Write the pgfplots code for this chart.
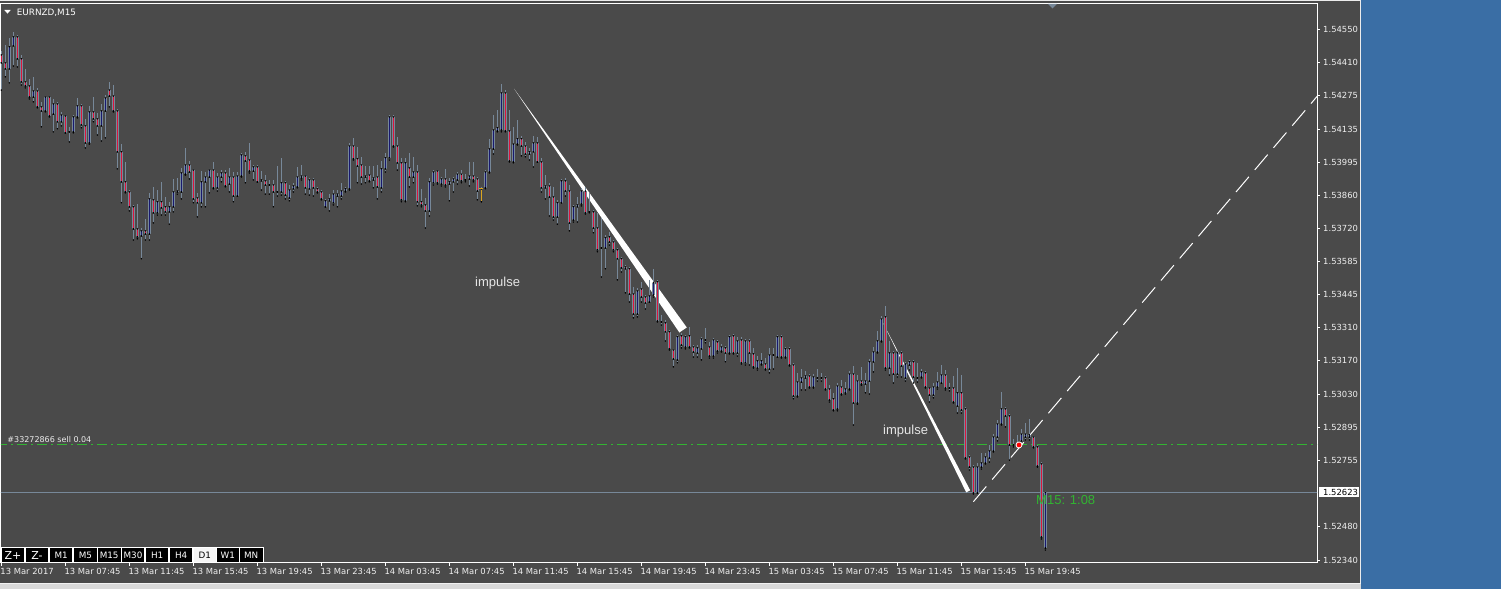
\documentclass[border=0pt]{standalone}
\usepackage{pgfplots}
\pgfplotsset{compat=1.18}
\usepackage{pgfplotstable}
\usepackage{fontspec}
\setmainfont{DejaVu Sans}
\newfontfamily\arialf{Liberation Sans}

\definecolor{chartbg}{HTML}{4A4A4A}
\definecolor{wick}{HTML}{778899}
\definecolor{bullc}{HTML}{191970}
\definecolor{bearc}{HTML}{DC143C}
\definecolor{ordergreen}{HTML}{32B432}
\definecolor{deskblue}{HTML}{3A6EA5}
\definecolor{goldc}{HTML}{DAA520}

% EURNZD M15 candles: bar index, open, high, low, close
\pgfplotstableread{
i o h l c
0 1.54443 1.54460 1.54297 1.54410
1 1.54410 1.54485 1.54352 1.54385
2 1.54385 1.54514 1.54327 1.54477
3 1.54481 1.54539 1.54397 1.54518
4 1.54518 1.54522 1.54393 1.54427
5 1.54427 1.54443 1.54318 1.54331
6 1.54331 1.54385 1.54306 1.54314
7 1.54314 1.54344 1.54260 1.54268
8 1.54268 1.54352 1.54248 1.54293
9 1.54293 1.54306 1.54223 1.54227
10 1.54227 1.54248 1.54144 1.54210
11 1.54210 1.54272 1.54206 1.54268
12 1.54268 1.54272 1.54185 1.54189
13 1.54197 1.54260 1.54123 1.54239
14 1.54239 1.54244 1.54136 1.54165
15 1.54165 1.54206 1.54148 1.54193
16 1.54189 1.54189 1.54119 1.54119
17 1.54123 1.54144 1.54081 1.54123
18 1.54123 1.54185 1.54119 1.54185
19 1.54185 1.54264 1.54181 1.54231
20 1.54231 1.54239 1.54140 1.54152
21 1.54148 1.54177 1.54056 1.54077
22 1.54077 1.54231 1.54072 1.54206
23 1.54206 1.54268 1.54165 1.54177
24 1.54177 1.54202 1.54110 1.54148
25 1.54148 1.54239 1.54085 1.54210
26 1.54210 1.54276 1.54098 1.54264
27 1.54297 1.54331 1.54227 1.54272
28 1.54272 1.54318 1.54206 1.54210
29 1.54210 1.54210 1.53969 1.54040
30 1.54040 1.54072 1.53828 1.53915
31 1.53915 1.53998 1.53869 1.53873
32 1.53873 1.53877 1.53794 1.53811
33 1.53811 1.53815 1.53673 1.53719
34 1.53719 1.53823 1.53678 1.53686
35 1.53690 1.53723 1.53595 1.53711
36 1.53711 1.53761 1.53673 1.53698
37 1.53698 1.53869 1.53673 1.53844
38 1.53840 1.53894 1.53744 1.53786
39 1.53786 1.53881 1.53777 1.53832
40 1.53832 1.53915 1.53777 1.53807
41 1.53811 1.53852 1.53777 1.53790
42 1.53790 1.53832 1.53739 1.53811
43 1.53811 1.53927 1.53790 1.53873
44 1.53873 1.53931 1.53864 1.53877
45 1.53873 1.53973 1.53844 1.53952
46 1.53947 1.54056 1.53943 1.53985
47 1.53985 1.54002 1.53927 1.53956
48 1.53964 1.53964 1.53828 1.53844
49 1.53848 1.53869 1.53769 1.53828
50 1.53828 1.53960 1.53811 1.53915
51 1.53915 1.53956 1.53811 1.53935
52 1.53935 1.53969 1.53869 1.53964
53 1.53964 1.53998 1.53886 1.53890
54 1.53890 1.53952 1.53877 1.53935
55 1.53935 1.53964 1.53915 1.53952
56 1.53952 1.53964 1.53894 1.53898
57 1.53906 1.53973 1.53873 1.53935
58 1.53935 1.53956 1.53832 1.53856
59 1.53856 1.53956 1.53856 1.53939
60 1.53939 1.54036 1.53935 1.54027
61 1.54023 1.54040 1.53911 1.54002
62 1.54006 1.54077 1.53952 1.53960
63 1.53960 1.53985 1.53923 1.53977
64 1.53977 1.53985 1.53915 1.53915
65 1.53923 1.53960 1.53881 1.53919
66 1.53919 1.53943 1.53864 1.53902
67 1.53902 1.53923 1.53864 1.53902
68 1.53902 1.53923 1.53811 1.53873
69 1.53873 1.53981 1.53856 1.53873
70 1.53873 1.54015 1.53860 1.53911
71 1.53911 1.53915 1.53844 1.53860
72 1.53848 1.53902 1.53836 1.53881
73 1.53886 1.53911 1.53873 1.53898
74 1.53894 1.53977 1.53890 1.53935
75 1.53931 1.53985 1.53923 1.53939
76 1.53939 1.53943 1.53864 1.53890
77 1.53886 1.53931 1.53860 1.53923
78 1.53923 1.53927 1.53856 1.53890
79 1.53886 1.53894 1.53869 1.53873
80 1.53873 1.53881 1.53840 1.53844
81 1.53811 1.53844 1.53811 1.53836
82 1.53836 1.53864 1.53794 1.53844
83 1.53828 1.53881 1.53819 1.53864
84 1.53856 1.53881 1.53811 1.53864
85 1.53856 1.53911 1.53844 1.53877
86 1.53877 1.53894 1.53873 1.53886
87 1.53886 1.54077 1.53881 1.54064
88 1.54064 1.54098 1.54006 1.54011
89 1.54011 1.54060 1.53911 1.53981
90 1.53985 1.54019 1.53906 1.53935
91 1.53939 1.53981 1.53911 1.53935
92 1.53943 1.53981 1.53915 1.53919
93 1.53923 1.53981 1.53890 1.53931
94 1.53935 1.53985 1.53844 1.53894
95 1.53890 1.54002 1.53873 1.53969
96 1.53969 1.54036 1.53956 1.54015
97 1.54015 1.54193 1.54006 1.54185
98 1.54185 1.54185 1.54060 1.54064
99 1.54064 1.54102 1.53964 1.53994
100 1.53994 1.54015 1.53832 1.53840
101 1.53836 1.54015 1.53832 1.53994
102 1.53973 1.54036 1.53894 1.53935
103 1.53935 1.54019 1.53911 1.53956
104 1.53956 1.53985 1.53815 1.53832
105 1.53832 1.53886 1.53811 1.53819
106 1.53819 1.53848 1.53723 1.53794
107 1.53794 1.53931 1.53773 1.53915
108 1.53911 1.53964 1.53902 1.53956
109 1.53960 1.53964 1.53906 1.53911
110 1.53906 1.53935 1.53898 1.53927
111 1.53927 1.53969 1.53894 1.53902
112 1.53906 1.53931 1.53836 1.53915
113 1.53915 1.53931 1.53873 1.53927
114 1.53923 1.53956 1.53906 1.53947
115 1.53947 1.53964 1.53911 1.53919
116 1.53923 1.53947 1.53915 1.53923
117 1.53927 1.53998 1.53898 1.53939
118 1.53939 1.53998 1.53915 1.53923
119 1.53927 1.53927 1.53840 1.53877
120 1.53886 1.53890 1.53832 1.53886
121 1.53890 1.53960 1.53886 1.53956
122 1.53956 1.54094 1.53952 1.54052
123 1.54052 1.54193 1.54031 1.54131
124 1.54127 1.54214 1.54123 1.54140
125 1.54131 1.54322 1.54123 1.54285
126 1.54285 1.54297 1.54123 1.54127
127 1.54127 1.54214 1.53998 1.54002
128 1.53998 1.54144 1.53994 1.54072
129 1.54072 1.54173 1.54068 1.54094
130 1.54094 1.54106 1.54023 1.54064
131 1.54064 1.54081 1.54019 1.54031
132 1.54031 1.54056 1.54006 1.54040
133 1.54040 1.54106 1.53977 1.54077
134 1.54077 1.54102 1.53998 1.53998
135 1.53998 1.54015 1.53873 1.53890
136 1.53890 1.53943 1.53844 1.53898
137 1.53898 1.53911 1.53773 1.53852
138 1.53852 1.53894 1.53756 1.53769
139 1.53769 1.53840 1.53739 1.53828
140 1.53828 1.53927 1.53828 1.53919
141 1.53919 1.53931 1.53856 1.53877
142 1.53877 1.53902 1.53711 1.53744
143 1.53756 1.53819 1.53748 1.53811
144 1.53811 1.53852 1.53748 1.53819
145 1.53823 1.53890 1.53815 1.53877
146 1.53877 1.53894 1.53781 1.53786
147 1.53790 1.53869 1.53786 1.53790
148 1.53790 1.53798 1.53703 1.53723
149 1.53723 1.53786 1.53624 1.53632
150 1.53640 1.53765 1.53519 1.53640
151 1.53640 1.53694 1.53553 1.53682
152 1.53686 1.53707 1.53652 1.53665
153 1.53665 1.53673 1.53624 1.53632
154 1.53632 1.53640 1.53507 1.53595
155 1.53595 1.53599 1.53540 1.53557
156 1.53561 1.53565 1.53453 1.53553
157 1.53553 1.53553 1.53415 1.53448
158 1.53448 1.53478 1.53349 1.53365
159 1.53365 1.53473 1.53353 1.53461
160 1.53469 1.53499 1.53415 1.53436
161 1.53436 1.53444 1.53386 1.53411
162 1.53415 1.53507 1.53415 1.53440
163 1.53444 1.53553 1.53436 1.53495
164 1.53499 1.53499 1.53332 1.53336
165 1.53332 1.53361 1.53319 1.53332
166 1.53328 1.53340 1.53253 1.53291
167 1.53291 1.53299 1.53215 1.53220
168 1.53215 1.53220 1.53145 1.53178
169 1.53174 1.53274 1.53162 1.53270
170 1.53274 1.53286 1.53224 1.53236
171 1.53228 1.53278 1.53220 1.53270
172 1.53274 1.53311 1.53224 1.53228
173 1.53228 1.53236 1.53186 1.53207
174 1.53203 1.53236 1.53186 1.53224
175 1.53220 1.53265 1.53174 1.53261
176 1.53257 1.53307 1.53245 1.53257
177 1.53228 1.53249 1.53182 1.53190
178 1.53190 1.53265 1.53182 1.53257
179 1.53249 1.53257 1.53203 1.53211
180 1.53211 1.53240 1.53207 1.53228
181 1.53224 1.53232 1.53166 1.53203
182 1.53203 1.53278 1.53199 1.53270
183 1.53274 1.53282 1.53199 1.53203
184 1.53203 1.53270 1.53190 1.53253
185 1.53257 1.53270 1.53157 1.53162
186 1.53162 1.53261 1.53153 1.53253
187 1.53253 1.53261 1.53153 1.53203
188 1.53199 1.53224 1.53140 1.53145
189 1.53140 1.53190 1.53132 1.53170
190 1.53157 1.53203 1.53153 1.53170
191 1.53157 1.53182 1.53132 1.53136
192 1.53136 1.53224 1.53120 1.53194
193 1.53194 1.53224 1.53136 1.53194
194 1.53186 1.53274 1.53186 1.53270
195 1.53270 1.53274 1.53182 1.53186
196 1.53186 1.53228 1.53182 1.53220
197 1.53220 1.53228 1.53149 1.53153
198 1.53153 1.53157 1.53012 1.53024
199 1.53024 1.53120 1.53020 1.53082
200 1.53082 1.53136 1.53049 1.53099
201 1.53099 1.53128 1.53049 1.53107
202 1.53107 1.53111 1.53057 1.53061
203 1.53061 1.53115 1.53057 1.53103
204 1.53099 1.53136 1.53086 1.53099
205 1.53099 1.53120 1.53086 1.53099
206 1.53099 1.53103 1.53049 1.53053
207 1.53053 1.53069 1.52999 1.53007
208 1.53012 1.53037 1.52962 1.52966
209 1.52970 1.53078 1.52962 1.53065
210 1.53061 1.53090 1.53028 1.53032
211 1.53037 1.53082 1.53032 1.53053
212 1.53053 1.53128 1.53049 1.53115
213 1.53115 1.53149 1.52903 1.52995
214 1.52995 1.53111 1.52990 1.53086
215 1.53086 1.53145 1.53069 1.53074
216 1.53074 1.53120 1.53037 1.53086
217 1.53086 1.53178 1.53032 1.53166
218 1.53166 1.53228 1.53124 1.53207
219 1.53207 1.53295 1.53203 1.53253
220 1.53253 1.53357 1.53249 1.53344
221 1.53353 1.53398 1.53132 1.53140
222 1.53140 1.53253 1.53111 1.53203
223 1.53203 1.53207 1.53078 1.53115
224 1.53115 1.53215 1.53103 1.53203
225 1.53203 1.53207 1.53103 1.53149
226 1.53099 1.53166 1.53086 1.53157
227 1.53153 1.53174 1.53132 1.53166
228 1.53166 1.53174 1.53078 1.53103
229 1.53099 1.53162 1.53082 1.53099
230 1.53103 1.53136 1.53099 1.53124
231 1.53120 1.53124 1.53057 1.53061
232 1.53057 1.53061 1.52999 1.53028
233 1.53028 1.53078 1.53016 1.53061
234 1.53061 1.53124 1.53053 1.53082
235 1.53078 1.53153 1.53078 1.53111
236 1.53111 1.53132 1.53049 1.53057
237 1.53057 1.53078 1.53045 1.53057
238 1.53057 1.53107 1.52995 1.52999
239 1.52982 1.53140 1.52953 1.53037
240 1.53037 1.53111 1.52953 1.52966
241 1.52970 1.52970 1.52762 1.52766
242 1.52770 1.52778 1.52716 1.52728
243 1.52728 1.52736 1.52616 1.52620
244 1.52620 1.52745 1.52620 1.52728
245 1.52728 1.52787 1.52720 1.52745
246 1.52745 1.52787 1.52741 1.52770
247 1.52766 1.52820 1.52749 1.52795
248 1.52795 1.52865 1.52791 1.52853
249 1.52853 1.52924 1.52837 1.52907
250 1.52907 1.53041 1.52903 1.52970
251 1.52970 1.52978 1.52895 1.52941
252 1.52941 1.52945 1.52757 1.52820
253 1.52820 1.52845 1.52812 1.52820
254 1.52816 1.52862 1.52812 1.52828
255 1.52837 1.52886 1.52812 1.52865
256 1.52853 1.52912 1.52841 1.52865
257 1.52853 1.52928 1.52841 1.52862
258 1.52853 1.52853 1.52808 1.52812
259 1.52812 1.52816 1.52728 1.52732
260 1.52741 1.52745 1.52429 1.52437
261 1.52391 1.52624 1.52383 1.52623
}\candles

\pgfplotsset{
  hidemarks/.style={only marks, mark=*, mark size=0.5bp, mark options={draw=none, fill=none}},
}

\begin{document}
\begin{tikzpicture}
\begin{scope}[x=1bp,y=1bp]
\useasboundingbox (0,0) rectangle (1501,-589);
\fill[chartbg] (0,0) rectangle (1361,-589);
\fill[deskblue] (1361,0) rectangle (1501,-589);
\fill[white!85!gray] (1359.5,0) rectangle (1361,-589);
\fill[white!85!gray] (0,0) rectangle (1359.5,-1.2);
\fill[white!90!gray] (0,-582.7) rectangle (1361,-584.3);
\fill[gray!30] (0,-584.3) rectangle (1361,-589);
\end{scope}

\begin{axis}[
  at={(1bp,-562.7bp)}, anchor=south west,
  width=1316bp, height=559.4bp, scale only axis,
  xmin=-0.075, xmax=328.9, ymin=1.52330, ymax=1.54658,
  axis line style={white, line width=1bp},
  tick align=outside, major tick length=3bp,
  tick style={white, line width=0.8bp},
  xtick pos=bottom, ytick pos=right, yticklabel pos=right,
  xtick={0,16,...,256},
  xticklabels={13 Mar 2017,13 Mar 07:45,13 Mar 11:45,13 Mar 15:45,13 Mar 19:45,13 Mar 23:45,14 Mar 03:45,14 Mar 07:45,14 Mar 11:45,14 Mar 15:45,14 Mar 19:45,14 Mar 23:45,15 Mar 03:45,15 Mar 07:45,15 Mar 11:45,15 Mar 15:45,15 Mar 19:45},
  ytick={1.54550,1.54410,1.54275,1.54135,1.53995,1.53860,1.53720,1.53585,1.53445,1.53310,1.53170,1.53030,1.52895,1.52755,1.52480,1.52340},
  yticklabels={1.54550,1.54410,1.54275,1.54135,1.53995,1.53860,1.53720,1.53585,1.53445,1.53310,1.53170,1.53030,1.52895,1.52755,1.52480,1.52340},
  tick label style={font=\fontsize{8.4bp}{10bp}\selectfont, text=white!94!black, inner sep=0pt},
  xticklabel style={anchor=north west, xshift=-1bp, yshift=-2.5bp},
  yticklabel style={anchor=west, xshift=3bp},
]
% price lines and drawn objects
\addplot[wick, line width=1bp] coordinates {(-1,1.52623) (330,1.52623)};
\addplot[ordergreen, line width=1bp, dash pattern=on 10bp off 4bp on 2bp off 4bp] coordinates {(-1,1.52820) (330,1.52820)};
\addplot[white, line width=1bp, dash pattern=on 20bp off 9bp] coordinates {(243.0,1.52584) (330,1.54292)};
\addplot[draw=none, fill=white] coordinates {(128.2,1.54302) (171.35,1.53309) (169.5,1.53288)};
\addplot[draw=none, fill=white] coordinates {(220.4,1.53328) (242.2,1.52631) (241.2,1.52623)};
% wicks
\addplot[hidemarks, error bars/.cd, y dir=plus, y explicit, error mark=none,
  error bar style={wick, line width=1bp}]
  table[x=i, y=l, y error expr=\thisrow{h}-\thisrow{l}] {\candles};
% body outlines
\addplot[hidemarks, error bars/.cd, y dir=plus, y explicit, error mark=-,
  error mark options={wick, line width=1bp, mark size=1.5bp},
  error bar style={wick, line width=3bp}]
  table[x=i, y expr={min(\thisrow{o},\thisrow{c})}, y error expr={abs(\thisrow{c}-\thisrow{o})}] {\candles};
% bull fill
\addplot[hidemarks, error bars/.cd, y dir=plus, y explicit, error mark=none,
  error bar style={bullc, line width=1.2bp}]
  table[x=i, y=o, y error expr={max(\thisrow{c}-\thisrow{o},0)}] {\candles};
% bear fill
\addplot[hidemarks, error bars/.cd, y dir=plus, y explicit, error mark=none,
  error bar style={bearc, line width=1.2bp}]
  table[x=i, y=c, y error expr={max(\thisrow{o}-\thisrow{c},0)}] {\candles};
% gold trade marker and red entry arrow
\addplot[hidemarks, error bars/.cd, y dir=plus, y explicit, error mark=none,
  error bar style={goldc, line width=1bp}] coordinates {(120,1.53832) +- (0,0.00058)};
\addplot[only marks, mark=-, mark size=2bp, mark options={goldc, line width=1bp}] coordinates {(120,1.53886)};
\addplot[only marks, mark=*, mark size=3bp, mark options={fill=red, draw=white, line width=0.8bp}] coordinates {(254.4,1.52820)};
\end{axis}

\begin{scope}[x=1bp,y=1bp]
% current price box
\fill[white] (1319,-487.3) rectangle (1359.3,-497.3);
\node[anchor=west, inner sep=0pt, font=\fontsize{8.4bp}{10bp}\selectfont, text=black] at (1323,-492.3) {1.52623};

% labels on the chart
\fill[white] (4.3,-10) -- (10.7,-10) -- (7.5,-13.6) -- cycle;
\node[anchor=base west, inner sep=0pt, font=\fontsize{8.8bp}{10bp}\selectfont, text=white] at (16.7,-16) {EURNZD,M15};
\fill[wick] (1048,-3.8) -- (1057,-3.8) -- (1052.5,-8.5) -- cycle;
\node[anchor=west, inner sep=0pt, font=\fontsize{8bp}{9.6bp}\selectfont, text=white!92!black] at (7.3,-439.5) {\#33272866 sell 0.04};
\node[anchor=base west, inner sep=0pt, font=\arialf\fontsize{13bp}{15bp}\selectfont, text=white!90!black] at (475,-286) {impulse};
\node[anchor=base west, inner sep=0pt, font=\arialf\fontsize{13bp}{15bp}\selectfont, text=white!90!black] at (883,-434) {impulse};
\node[anchor=base west, inner sep=0pt, font=\arialf\fontsize{13bp}{15bp}\selectfont, text=ordergreen] at (1036,-504) {M15: 1:08};

% timeframe buttons
\fill[white] (0.7,-547.4) rectangle (263.5,-562.7);
\foreach \a/\b/\t in {50/72.3/M1, 74/96.7/M5, 97.7/120.7/M15, 121.7/144.3/M30, 146/168.3/H1, 170/192.3/H4, 216.7/239/W1, 239.7/262.7/MN}{
  \fill[black] (\a,-548.3) rectangle (\b,-562.3);
  \node[inner sep=0pt, font=\fontsize{8.8bp}{10bp}\selectfont, text=white] at ({(\a+\b)/2},-555.3) {\t};
}
\fill[black] (1.7,-548.3) rectangle (24.3,-562.3);
\fill[black] (25.7,-548.3) rectangle (48.3,-562.3);
\node[inner sep=0pt, font=\fontsize{11bp}{12bp}\selectfont, text=white] at (13,-555.5) {Z+};
\node[inner sep=0pt, font=\fontsize{11bp}{12bp}\selectfont, text=white] at (37,-555.5) {Z-};
\fill[white!92!gray] (193.7,-548.3) rectangle (216,-562.3);
\node[inner sep=0pt, font=\fontsize{8.8bp}{10bp}\selectfont, text=black] at (204.85,-555.3) {D1};
\end{scope}
\end{tikzpicture}
\end{document}
